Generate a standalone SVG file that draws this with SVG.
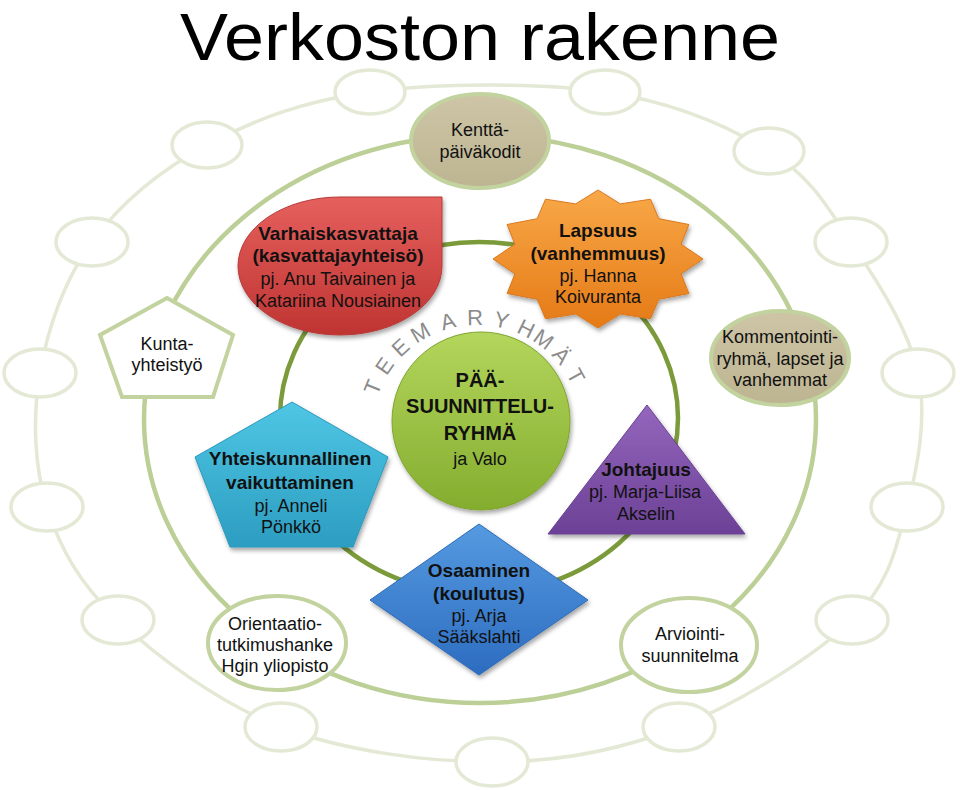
<svg xmlns="http://www.w3.org/2000/svg" width="960" height="790" viewBox="0 0 960 790">
<style>
text{font-family:"Liberation Sans",Arial,sans-serif;fill:#111;text-anchor:middle}
.t{font-size:66px;fill:#000}
.b{font-size:19px;font-weight:bold}
.n{font-size:18px}
.oc{fill:#fff;stroke:#e3e9d5;stroke-width:3.5}
.ring0{fill:none;stroke:#e3e9d5;stroke-width:3.5}
.ring1{fill:none;stroke:#bccf96;stroke-width:4.5}
.ring2{fill:none;stroke:#7b9b3b;stroke-width:4.5}
.lt{fill:#fff;stroke:#c2d39f;stroke-width:4}
.tan{fill:url(#gTan);stroke:#c2d39f;stroke-width:4}
.a{font-size:22px;fill:#8c8c8c}
</style>
<defs>
<linearGradient id="gTan" x1="0" y1="0" x2="0" y2="1"><stop offset="0" stop-color="#cdc5a6"/><stop offset="1" stop-color="#bdb491"/></linearGradient>
<linearGradient id="gRed" x1="0" y1="0" x2="0" y2="1"><stop offset="0" stop-color="#e5605d"/><stop offset="1" stop-color="#bf3432"/></linearGradient>
<linearGradient id="gOr" x1="0" y1="0" x2="0" y2="1"><stop offset="0" stop-color="#f8a848"/><stop offset="1" stop-color="#e57a16"/></linearGradient>
<linearGradient id="gGr" x1="0" y1="0" x2="0" y2="1"><stop offset="0" stop-color="#b3d65c"/><stop offset="1" stop-color="#84ad2e"/></linearGradient>
<linearGradient id="gCy" x1="0" y1="0" x2="0" y2="1"><stop offset="0" stop-color="#4fc6e4"/><stop offset="1" stop-color="#2c9dc1"/></linearGradient>
<linearGradient id="gPu" x1="0" y1="0" x2="0" y2="1"><stop offset="0" stop-color="#9466bd"/><stop offset="1" stop-color="#6c4196"/></linearGradient>
<linearGradient id="gBl" x1="0" y1="0" x2="0" y2="1"><stop offset="0" stop-color="#559ae0"/><stop offset="1" stop-color="#2d6cc0"/></linearGradient>
<filter id="sh" x="-20%" y="-20%" width="140%" height="150%"><feDropShadow dx="1.5" dy="3" stdDeviation="2" flood-color="#000" flood-opacity="0.35"/></filter>
</defs>
<rect width="960" height="790" fill="#fff"/>
<text class="t" x="480" y="60" textLength="600" lengthAdjust="spacingAndGlyphs">Verkoston rakenne</text>
<g id="connectors">
<path class="ring0" d="M 370,92 C 436.3,83.2 538.5,82.2 605,92 C 671.5,101.8 728,126 769,151 C 810,176 826.2,205 851,242 C 875.8,279 908.7,328.8 918,373 C 927.3,417.2 918,465.8 907,507 C 896,548.2 890,583.3 852,620 C 814,656.7 739,703.3 679,727 C 619,750.7 558.3,762 492,762 C 425.7,762 343.3,750.7 281,727 C 218.7,703.3 157,656.7 118,620 C 79,583.3 60,548.2 47,507 C 34,465.8 32.5,417.2 40,373 C 47.5,328.8 64.2,280 92,242 C 119.8,204 160.7,170 207,145 C 253.3,120 303.7,100.8 370,92 Z"/>
<ellipse class="ring1" cx="480" cy="419" rx="336" ry="284"/>
<ellipse class="ring2" cx="479" cy="418" rx="199" ry="176"/>
</g>
<g id="outer-circles">
<ellipse class="oc" cx="370" cy="92" rx="35" ry="22"/>
<ellipse class="oc" cx="605" cy="92" rx="35" ry="22"/>
<ellipse class="oc" cx="769" cy="151" rx="35" ry="23"/>
<ellipse class="oc" cx="851" cy="242" rx="36" ry="24"/>
<ellipse class="oc" cx="918" cy="373" rx="36" ry="24"/>
<ellipse class="oc" cx="907" cy="507" rx="36" ry="24"/>
<ellipse class="oc" cx="852" cy="620" rx="36" ry="24"/>
<ellipse class="oc" cx="679" cy="727" rx="36" ry="24"/>
<ellipse class="oc" cx="492" cy="762" rx="36" ry="24"/>
<ellipse class="oc" cx="281" cy="727" rx="36" ry="24"/>
<ellipse class="oc" cx="118" cy="620" rx="36" ry="24"/>
<ellipse class="oc" cx="47" cy="507" rx="36" ry="24"/>
<ellipse class="oc" cx="40" cy="373" rx="36" ry="24"/>
<ellipse class="oc" cx="92" cy="242" rx="36" ry="24"/>
<ellipse class="oc" cx="207" cy="145" rx="35" ry="23"/>
</g>
<g id="kentta">
<ellipse class="tan" cx="480" cy="141" rx="69" ry="47"/>
<text class="n" x="480" y="136">Kenttä-</text>
<text class="n" x="480" y="158">päiväkodit</text>
</g>
<g id="kommentointi">
<ellipse class="tan" cx="780" cy="358" rx="69" ry="47"/>
<text class="n" x="780" y="343">Kommentointi-</text>
<text class="n" x="780" y="365">ryhmä, lapset ja</text>
<text class="n" x="780" y="386">vanhemmat</text>
</g>
<g id="kunta">
<polygon class="lt" points="167,298 233,335 213,397 122,397 100,335"/>
<text class="n" x="167" y="350">Kunta-</text>
<text class="n" x="167" y="371">yhteistyö</text>
</g>
<g id="orientaatio">
<ellipse class="lt" cx="277" cy="643" rx="69" ry="47"/>
<text class="n" x="275" y="630">Orientaatio-</text>
<text class="n" x="275" y="651">tutkimushanke</text>
<text class="n" x="275" y="672">Hgin yliopisto</text>
</g>
<g id="arviointi">
<ellipse class="lt" cx="689" cy="645" rx="68" ry="47"/>
<text class="n" x="690" y="640">Arviointi-</text>
<text class="n" x="690" y="662">suunnitelma</text>
</g>
<g id="varhaiskasvattaja">
<path d="M 340,197 L 442,197 L 442,266 A 102 69 0 1 1 340,197 Z" fill="url(#gRed)" stroke="#b53a38" stroke-width="1" filter="url(#sh)"/>
<text class="b" x="338" y="240">Varhaiskasvattaja</text>
<text class="b" x="338" y="262">(kasvattajayhteisö)</text>
<text class="n" x="338" y="285">pj. Anu Taivainen ja</text>
<text class="n" x="338" y="307">Katariina Nousiainen</text>
</g>
<g id="lapsuus">
<polygon points="598,190 620.3,203.9 650.5,199.2 658.8,218.7 688.9,224.5 681.1,244.2 703,259 681.1,273.8 688.9,293.5 658.8,299.3 650.5,318.8 620.3,314.1 598,328 575.7,314.1 545.5,318.8 537.2,299.3 507.1,293.5 514.9,273.8 493,259 514.9,244.2 507.1,224.5 537.2,218.7 545.5,199.2 575.7,203.9" fill="url(#gOr)" stroke="#d9781e" stroke-width="1" filter="url(#sh)"/>
<text class="b" x="598" y="237">Lapsuus</text>
<text class="b" x="598" y="260">(vanhemmuus)</text>
<text class="n" x="598" y="282">pj. Hanna</text>
<text class="n" x="598" y="303">Koivuranta</text>
</g>
<g id="teemaryhmat">
<text class="a" transform="translate(372.5,387.1) rotate(-67.7)" y="8">T</text>
<text class="a" transform="translate(384.1,365.7) rotate(-55.3)" y="8">E</text>
<text class="a" transform="translate(400.1,347.2) rotate(-42.9)" y="8">E</text>
<text class="a" transform="translate(420.2,332.3) rotate(-30.2)" y="8">M</text>
<text class="a" transform="translate(447.8,320.9) rotate(-15)" y="8">A</text>
<text class="a" transform="translate(475,317) rotate(-1)" y="8">R</text>
<text class="a" transform="translate(501.6,319.7) rotate(12.6)" y="8">Y</text>
<text class="a" transform="translate(526.4,328.3) rotate(25.9)" y="8">H</text>
<text class="a" transform="translate(543.9,338.9) rotate(36.3)" y="8">M</text>
<text class="a" transform="translate(561.8,355.3) rotate(48.6)" y="8">Ä</text>
<text class="a" transform="translate(576.2,375.9) rotate(61.4)" y="8">T</text>
</g>
<g id="paasuunnitteluryhma">
<circle cx="481" cy="421" r="89" fill="url(#gGr)" stroke="#7fa42f" stroke-width="1" filter="url(#sh)"/>
<text class="b" x="480" y="387" style="font-size:20px">PÄÄ-</text>
<text class="b" x="480" y="413" style="font-size:20px">SUUNNITTELU-</text>
<text class="b" x="480" y="440" style="font-size:20px">RYHMÄ</text>
<text class="n" x="480" y="465">ja Valo</text>
</g>
<g id="yhteiskunnallinen">
<polygon points="292,402 388,457 353,547 230,547 195,457" fill="url(#gCy)" stroke="#2b9abd" stroke-width="1" filter="url(#sh)"/>
<text class="b" x="290" y="465">Yhteiskunnallinen</text>
<text class="b" x="290" y="489">vaikuttaminen</text>
<text class="n" x="291" y="512">pj. Anneli</text>
<text class="n" x="291" y="533">Pönkkö</text>
</g>
<g id="johtajuus">
<polygon points="647,405 745,534 548,534" fill="url(#gPu)" stroke="#6a4294" stroke-width="1" filter="url(#sh)"/>
<text class="b" x="646" y="476">Johtajuus</text>
<text class="n" x="645" y="498">pj. Marja-Liisa</text>
<text class="n" x="646" y="520">Akselin</text>
</g>
<g id="osaaminen">
<polygon points="479,524 588,600 479,675 370,600" fill="url(#gBl)" stroke="#2f6bb8" stroke-width="1" filter="url(#sh)"/>
<text class="b" x="479" y="577">Osaaminen</text>
<text class="b" x="479" y="600">(koulutus)</text>
<text class="n" x="479" y="622">pj. Arja</text>
<text class="n" x="479" y="643">Sääkslahti</text>
</g>
</svg>
